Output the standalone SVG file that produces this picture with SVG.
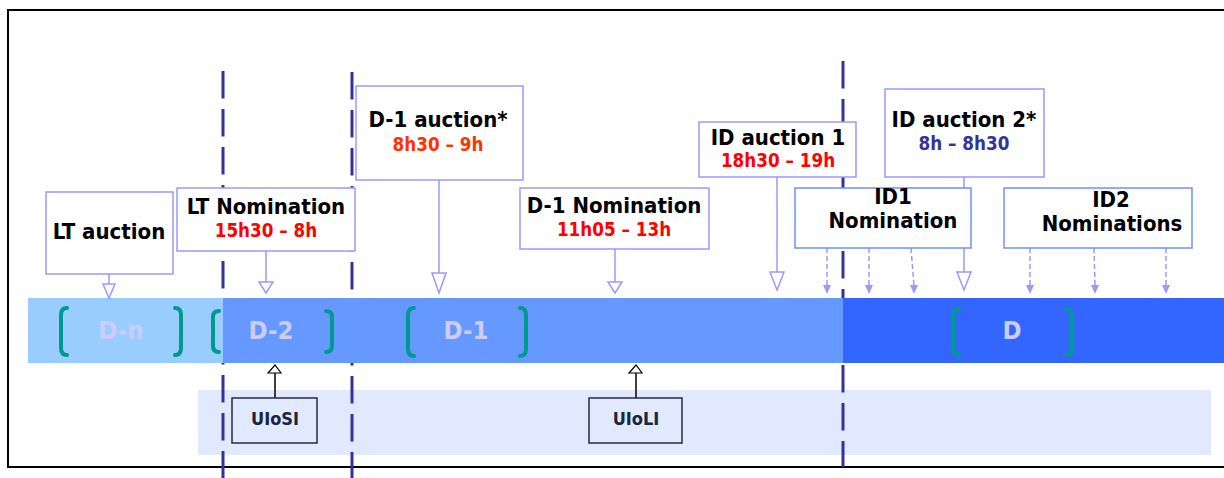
<svg xmlns="http://www.w3.org/2000/svg" width="1224" height="478" viewBox="0 0 1224 478">
<style>
text{font-family:"DejaVu Sans Condensed","DejaVu Sans",sans-serif;font-weight:bold;text-anchor:middle}
.t{font-size:22px;fill:#000}
.tm{font-size:18.7px}
.red{fill:#ff0000}
.org{fill:#ff3300}
.navy{fill:#333399}
.box{fill:#fff;stroke:#9999ff;stroke-width:1.5}
.box2{fill:#fff;stroke:#6f8fff;stroke-width:1.5}
.ui{fill:#e0e9fd;stroke:#2a2a3a;stroke-width:1.5}
.uit{font-size:18px;fill:#1a2540}
.vd{stroke:#333399;stroke-width:3;stroke-dasharray:27.5 10.5;fill:none}
.con{stroke:#9999ff;stroke-width:1.5;fill:none}
.dcon{stroke:#9999ff;stroke-width:1.5;stroke-dasharray:5 3;fill:none}
.tri{fill:#fff;stroke:#9999ff;stroke-width:1.5}
.sm{fill:#9999ff}
.br{fill:none;stroke:#009990;stroke-width:4;stroke-linecap:round}
.day{font-size:25.5px;fill:#ccccff}
</style>
<rect x="8" y="10" width="1230" height="457" fill="#fff" stroke="#000" stroke-width="2"/>
<rect x="198" y="390" width="1013" height="65" fill="#e0e9fd"/>
<g id="dividers">
<line class="vd" x1="223" y1="71" x2="223" y2="478"/>
<line class="vd" x1="352" y1="72" x2="352" y2="478"/>
<line class="vd" x1="843" y1="61" x2="843" y2="467"/>
</g>
<g id="timeline">
<rect x="28" y="298" width="195" height="65" fill="#99ccff"/>
<rect x="223" y="298" width="620" height="65" fill="#6699ff"/>
<rect x="843" y="298" width="382" height="65" fill="#3366ff"/>
<path class="br" d="M67 308 Q61 308 61 315 L61 348 Q61 355 67 355"/>
<path class="br" d="M175 308 Q181 308 181 315 L181 348 Q181 355 175 355"/>
<text class="day" x="121" y="339">D-n</text>
<path class="br" d="M219 311 Q213 311 213 317 L213 346 Q213 352 219 352"/>
<path class="br" d="M326 311 Q332 311 332 317 L332 346 Q332 352 326 352"/>
<text class="day" x="271" y="339">D-2</text>
<path class="br" d="M414 308 Q408 308 408 315 L408 349 Q408 356 414 356"/>
<path class="br" d="M520 308 Q526 308 526 315 L526 349 Q526 356 520 356"/>
<text class="day" x="466" y="339">D-1</text>
<path class="br" d="M959 309 Q953 309 953 316 L953 348 Q953 355 959 355"/>
<path class="br" d="M1066 309 Q1072 309 1072 316 L1072 348 Q1072 355 1066 355"/>
<text class="day" x="1012" y="339">D</text>
</g>
<g id="connectors">
<line class="con" x1="109" y1="274" x2="109" y2="284"/>
<path class="tri" d="M103 284 L115 284 L109 298 Z"/>
<line class="con" x1="266" y1="251" x2="266" y2="282"/>
<path class="tri" d="M259 282 L273 282 L266 293 Z"/>
<line class="con" x1="439" y1="180" x2="439" y2="273"/>
<path class="tri" d="M432 273 L446 273 L439 293 Z"/>
<line class="con" x1="615" y1="249" x2="615" y2="282"/>
<path class="tri" d="M608 282 L622 282 L615 293 Z"/>
<line class="con" x1="777" y1="177" x2="777" y2="272"/>
<path class="tri" d="M770 272 L784 272 L777 290 Z"/>
<line class="con" x1="964" y1="177" x2="964" y2="272"/>
<path class="tri" d="M957 272 L971 272 L964 290 Z"/>
<line class="dcon" x1="827" y1="248" x2="827" y2="286"/>
<path class="sm" d="M823 285 L831 285 L827 294 Z"/>
<line class="dcon" x1="869" y1="248" x2="869" y2="286"/>
<path class="sm" d="M865 285 L873 285 L869 294 Z"/>
<line class="dcon" x1="911" y1="248" x2="914" y2="286"/>
<path class="sm" d="M910 285 L918 285 L914 294 Z"/>
<line class="dcon" x1="1030" y1="248" x2="1030" y2="286"/>
<path class="sm" d="M1026 285 L1034 285 L1030 294 Z"/>
<line class="dcon" x1="1094" y1="248" x2="1095" y2="286"/>
<path class="sm" d="M1091 285 L1099 285 L1095 294 Z"/>
<line class="dcon" x1="1166" y1="248" x2="1166" y2="286"/>
<path class="sm" d="M1162 285 L1170 285 L1166 294 Z"/>
<line x1="275" y1="373" x2="275" y2="398" stroke="#000" stroke-width="1.5"/>
<path d="M268 373 L281 373 L275 365 Z" fill="#fff" stroke="#000" stroke-width="1.2"/>
<line x1="636" y1="373" x2="636" y2="398" stroke="#000" stroke-width="1.5"/>
<path d="M629 373 L642 373 L636 365 Z" fill="#fff" stroke="#000" stroke-width="1.2"/>
</g>
<g id="lt-auction">
<rect class="box" x="46" y="192" width="127" height="82"/>
<text class="t" x="109" y="239">LT auction</text>
</g>
<g id="lt-nomination">
<rect class="box" x="177" y="188" width="178" height="63"/>
<text class="t" x="266" y="214">LT Nomination</text>
<text class="tm red" x="266" y="237">15h30 – 8h</text>
</g>
<g id="d1-auction">
<rect class="box" x="356" y="86" width="167" height="94"/>
<text class="t" x="438" y="127">D-1 auction*</text>
<text class="tm org" x="438" y="151">8h30 – 9h</text>
</g>
<g id="d1-nomination">
<rect class="box" x="520" y="188" width="189" height="61"/>
<text class="t" x="614" y="213">D-1 Nomination</text>
<text class="tm red" x="614" y="236">11h05 – 13h</text>
</g>
<g id="id-auction-1">
<rect class="box" x="699" y="122" width="157" height="55"/>
<text class="t" x="778" y="145">ID auction 1</text>
<text class="tm red" x="778" y="167">18h30 – 19h</text>
</g>
<g id="id-auction-2">
<rect class="box" x="885" y="89" width="159" height="88"/>
<text class="t" x="964" y="127">ID auction 2*</text>
<text class="tm navy" x="964" y="150">8h – 8h30</text>
</g>
<g id="id1-nomination">
<rect class="box2" x="795" y="188" width="176" height="60"/>
<text class="t" x="893" y="204">ID1</text>
<text class="t" x="893" y="228">Nomination</text>
</g>
<g id="id2-nominations">
<rect class="box2" x="1004" y="188" width="188" height="60"/>
<text class="t" x="1111" y="207">ID2</text>
<text class="t" x="1112" y="231">Nominations</text>
</g>
<g id="uiosi">
<rect class="ui" x="232" y="398" width="85" height="45"/>
<text class="uit" x="275" y="425">UIoSI</text>
</g>
<g id="uioli">
<rect class="ui" x="589" y="398" width="93" height="45"/>
<text class="uit" x="636" y="425">UIoLI</text>
</g>
</svg>
